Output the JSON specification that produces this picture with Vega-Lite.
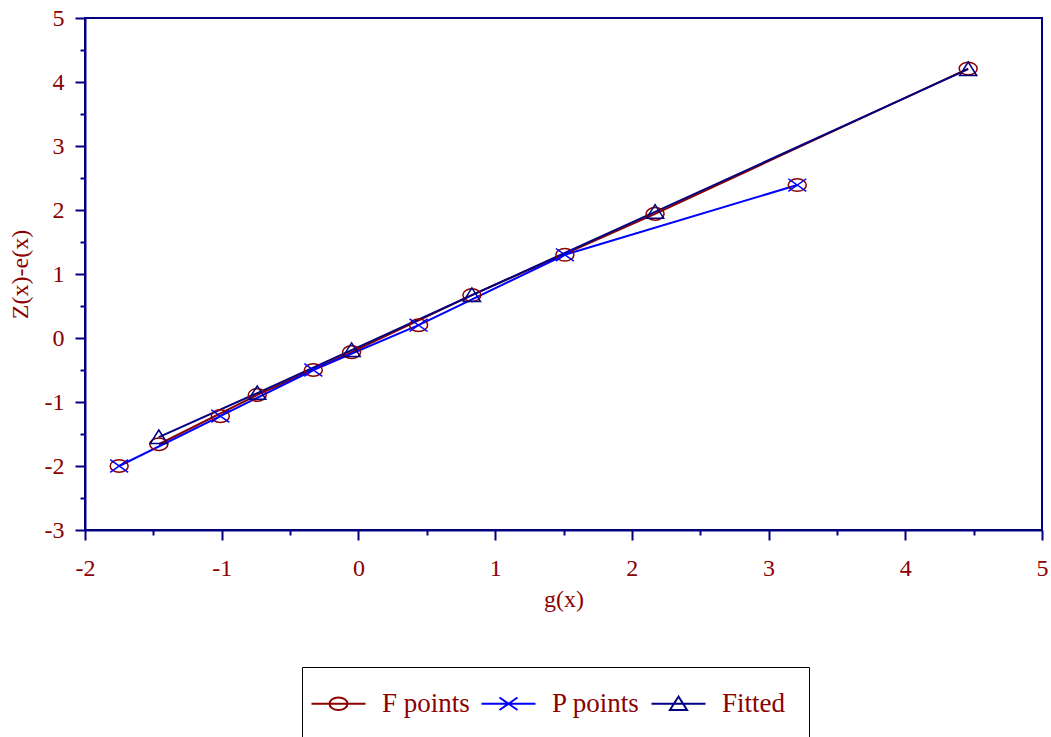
{
  "$schema": "https://vega.github.io/schema/vega-lite/v6.json",
  "width": 957,
  "height": 512,
  "autosize": {"type": "none"},
  "padding": {"left": 85, "top": 18, "right": 9, "bottom": 207},
  "background": "white",
  "config": {
    "view": {"stroke": "#000080", "strokeWidth": 2},
    "font": "Liberation Serif",
    "axis": {
      "grid": false,
      "domainColor": "#000080",
      "domainWidth": 2,
      "tickColor": "#000080",
      "tickWidth": 2,
      "labelFont": "Liberation Serif",
      "labelFontSize": 24,
      "labelColor": "#8b0000",
      "titleFont": "Liberation Serif",
      "titleFontSize": 24,
      "titleFontWeight": "normal",
      "titleColor": "#8b0000",
      "labelFlush": false,
      "labelOverlap": false
    },
    "legend": {
      "orient": "none",
      "legendX": 217,
      "legendY": 649,
      "direction": "horizontal",
      "gridAlign": "all",
      "labelFontSize": 27,
      "labelFont": "Liberation Serif",
      "labelColor": "#8b0000",
      "strokeColor": "black",
      "padding": 23,
      "columnPadding": 7,
      "labelOffset": 30,
      "symbolSize": 324,
      "symbolStrokeWidth": 2,
      "symbolOpacity": 1
    }
  },
  "data": {
    "values": [
      {"series": "F points", "x": -1.46, "y": -1.66},
      {"series": "F points", "x": -0.74, "y": -0.89},
      {"series": "F points", "x": -0.05, "y": -0.22},
      {"series": "F points", "x": 0.83, "y": 0.67},
      {"series": "F points", "x": 2.17, "y": 1.94},
      {"series": "F points", "x": 4.46, "y": 4.21},
      {"series": "P points", "x": -1.75, "y": -2.0},
      {"series": "P points", "x": -1.01, "y": -1.22},
      {"series": "P points", "x": -0.33, "y": -0.5},
      {"series": "P points", "x": 0.44, "y": 0.2},
      {"series": "P points", "x": 1.51, "y": 1.3},
      {"series": "P points", "x": 3.21, "y": 2.39},
      {"series": "Fitted", "x": -1.46, "y": -1.55},
      {"series": "Fitted", "x": -0.74, "y": -0.86},
      {"series": "Fitted", "x": -0.05, "y": -0.19},
      {"series": "Fitted", "x": 0.83, "y": 0.67},
      {"series": "Fitted", "x": 2.17, "y": 1.97},
      {"series": "Fitted", "x": 4.46, "y": 4.2}
    ]
  },
  "encoding": {
    "x": {
      "field": "x",
      "type": "quantitative",
      "scale": {"domain": [-2, 5], "nice": false, "zero": false},
      "axis": {
        "title": "g(x)",
        "values": [-2, -1.5, -1, -0.5, 0, 0.5, 1, 1.5, 2, 2.5, 3, 3.5, 4, 4.5, 5],
        "labelExpr": "datum.value % 1 === 0 ? '' + datum.value : ''",
        "tickSize": {"condition": {"test": "datum.value % 1 === 0", "value": 10}, "value": 5},
        "labelPadding": 16,
        "titlePadding": 7
      }
    },
    "y": {
      "field": "y",
      "type": "quantitative",
      "scale": {"domain": [-3, 5], "nice": false, "zero": false},
      "axis": {
        "title": "Z(x)-e(x)",
        "values": [-3, -2.5, -2, -1.5, -1, -0.5, 0, 0.5, 1, 1.5, 2, 2.5, 3, 3.5, 4, 4.5, 5],
        "labelExpr": "datum.value % 1 === 0 ? '' + datum.value : ''",
        "tickSize": {"condition": {"test": "datum.value % 1 === 0", "value": 10}, "value": 5},
        "labelPadding": 11,
        "titlePadding": 12
      }
    }
  },
  "layer": [
    {
      "transform": [{"filter": "false"}],
      "mark": {"type": "point", "filled": false, "size": 324, "strokeWidth": 2},
      "encoding": {
        "color": {
          "field": "series",
          "type": "nominal",
          "scale": {"domain": ["F points", "P points", "Fitted"], "range": ["#8b0000", "#0000ff", "#000080"]},
          "legend": {"title": null}
        },
        "shape": {
          "field": "series",
          "type": "nominal",
          "scale": {
            "domain": ["F points", "P points", "Fitted"],
            "range": [
              "M-3,0H3M-1,0A1,0.7,0,1,0,1,0A1,0.7,0,1,0,-1,0Z",
              "M-3,0H3M-1,-0.7L1,0.7M-1,0.7L1,-0.7",
              "M-3,0H3M0,-0.8L0.95,0.7L-0.95,0.7Z"
            ]
          },
          "legend": {"title": null}
        }
      }
    },
    {
      "mark": {"type": "line", "strokeWidth": 2},
      "encoding": {
        "color": {
          "field": "series",
          "type": "nominal",
          "scale": {"domain": ["F points", "P points", "Fitted"], "range": ["#8b0000", "#0000ff", "#000080"]},
          "legend": {"title": null}
        },
        "order": {"field": "x", "type": "quantitative"}
      }
    },
    {
      "transform": [{"filter": "datum.series !== 'Fitted'"}],
      "mark": {
        "type": "point",
        "filled": false,
        "shape": "M-1,0A1,0.7,0,1,0,1,0A1,0.7,0,1,0,-1,0Z",
        "size": 324,
        "strokeWidth": 1.5,
        "color": "#8b0000",
        "opacity": 1
      }
    },
    {
      "transform": [{"filter": "datum.series === 'P points'"}],
      "mark": {
        "type": "point",
        "filled": false,
        "shape": "M-1,-0.7L1,0.7M-1,0.7L1,-0.7",
        "size": 324,
        "strokeWidth": 1.5,
        "color": "#0000ff",
        "opacity": 1
      }
    },
    {
      "transform": [{"filter": "datum.series === 'Fitted'"}],
      "mark": {
        "type": "point",
        "filled": false,
        "shape": "M0,-0.8L0.95,0.7L-0.95,0.7Z",
        "size": 324,
        "strokeWidth": 1.5,
        "color": "#000080",
        "opacity": 1
      }
    }
  ]
}
